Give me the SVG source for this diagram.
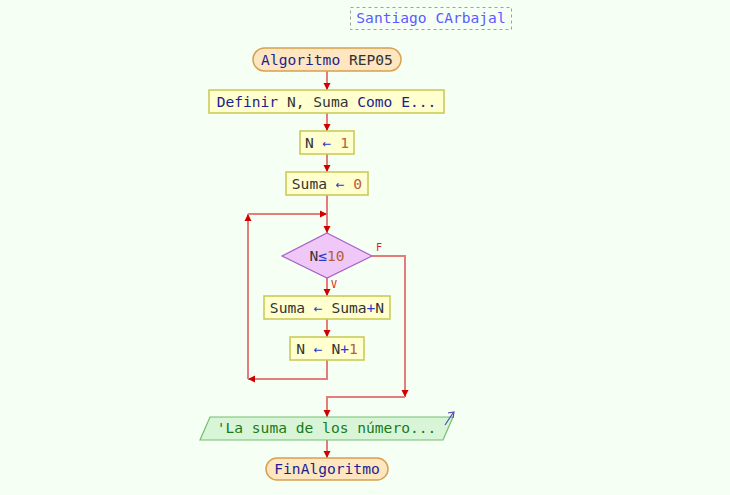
<svg xmlns="http://www.w3.org/2000/svg" width="730" height="495" viewBox="0 0 730 495">
<defs>
<style>
text{font-family:"DejaVu Sans Mono","Liberation Mono",monospace;font-size:14.6px;fill:#333;font-weight:normal;}
.kw{fill:#1e1e90;}
.op{fill:#2a3ad0;}
.num{fill:#b8603a;}
.proc{fill:#ffffcf;stroke:#c8c850;stroke-width:1.5;}
.term{fill:#fde6c0;stroke:#d8a050;stroke-width:1.5;}
.dec{fill:#efc8f8;stroke:#a860c8;stroke-width:1.2;}
.io{fill:#d8f5d8;stroke:#70c070;stroke-width:1.2;}
.ln{fill:none;stroke:#e47c7c;stroke-width:2;}
.lbl{font-family:"DejaVu Sans Mono",monospace;font-size:10px;fill:#dd2222;}
</style>
<marker id="ah2" viewBox="0 0 10 10" refX="10" refY="5" markerWidth="7" markerHeight="8" orient="auto" markerUnits="userSpaceOnUse">
<path d="M0,0 L10,5 L0,10 z" fill="#d00000"/>
</marker>
</defs>
<rect width="730" height="495" fill="#f6fff4"/>

<g id="title">
<rect x="350.5" y="7.5" width="161" height="22" fill="none" stroke="#a0a0a0" stroke-dasharray="3,3"/>
<text x="431" y="23" text-anchor="middle" style="fill:#5a5aff">Santiago CArbajal</text>
</g>

<g id="connectors">
<line class="ln" x1="327" y1="71" x2="327" y2="90" marker-end="url(#ah2)"/>
<line class="ln" x1="327" y1="113" x2="327" y2="131" marker-end="url(#ah2)"/>
<line class="ln" x1="327" y1="154" x2="327" y2="172" marker-end="url(#ah2)"/>
<line class="ln" x1="327" y1="195" x2="327" y2="233" marker-end="url(#ah2)"/>
<line class="ln" x1="327" y1="278" x2="327" y2="296" marker-end="url(#ah2)"/>
<line class="ln" x1="327" y1="319" x2="327" y2="337" marker-end="url(#ah2)"/>
<polyline class="ln" points="327,360 327,379 248,379" marker-end="url(#ah2)"/>
<polyline class="ln" points="248,379 248,214" marker-end="url(#ah2)"/>
<polyline class="ln" points="248,214 327,214" marker-end="url(#ah2)"/>
<polyline class="ln" points="372,256 405,256 405,397" marker-end="url(#ah2)"/>
<polyline class="ln" points="405,397 327,397 327,417" marker-end="url(#ah2)"/>
<line class="ln" x1="327" y1="440" x2="327" y2="458" marker-end="url(#ah2)"/>
<text class="lbl" x="376" y="251">F</text>
<text class="lbl" x="331" y="288">V</text>
</g>

<g id="start">
<rect class="term" x="253" y="48" width="148" height="23" rx="11.5"/>
<text x="327" y="64.5" text-anchor="middle"><tspan class="kw">Algoritmo</tspan> REP05</text>
</g>

<g id="definir">
<rect class="proc" x="209" y="90" width="235" height="23"/>
<text x="326.5" y="106.5" text-anchor="middle"><tspan class="kw">Definir</tspan> N, Suma <tspan class="kw">Como E...</tspan></text>
</g>

<g id="n1">
<rect class="proc" x="300" y="131" width="54" height="23"/>
<text x="327" y="147.5" text-anchor="middle">N <tspan class="op">←</tspan> <tspan class="num">1</tspan></text>
</g>

<g id="suma0">
<rect class="proc" x="286" y="172" width="82" height="23"/>
<text x="327" y="188.5" text-anchor="middle">Suma <tspan class="op">←</tspan> <tspan class="num">0</tspan></text>
</g>

<g id="cond">
<polygon class="dec" points="327,233 372,256 327,278 282,256"/>
<text x="327" y="261" text-anchor="middle">N<tspan class="op">≤</tspan><tspan class="num">10</tspan></text>
</g>

<g id="sumaN">
<rect class="proc" x="264" y="296" width="126" height="23"/>
<text x="327" y="312.5" text-anchor="middle">Suma <tspan class="op">←</tspan> Suma<tspan class="op">+</tspan>N</text>
</g>

<g id="incN">
<rect class="proc" x="290" y="337" width="74" height="23"/>
<text x="327" y="353.5" text-anchor="middle">N <tspan class="op">←</tspan> N<tspan class="op">+</tspan><tspan class="num">1</tspan></text>
</g>

<g id="output">
<polygon class="io" points="210,417 453,417 443,440 200,440"/>
<text x="326.5" y="433" text-anchor="middle" style="fill:#1a7a1a">'La suma de los número...</text>
<line x1="445" y1="425" x2="453" y2="413" stroke="#4a4ab0" stroke-width="1.2"/>
<path d="M448,413 L454,412 L453,418" fill="none" stroke="#4a4ab0" stroke-width="1.2"/>
</g>

<g id="end">
<rect class="term" x="266" y="458" width="122" height="22" rx="11"/>
<text x="327" y="474" text-anchor="middle" class="kw">FinAlgoritmo</text>
</g>
</svg>
